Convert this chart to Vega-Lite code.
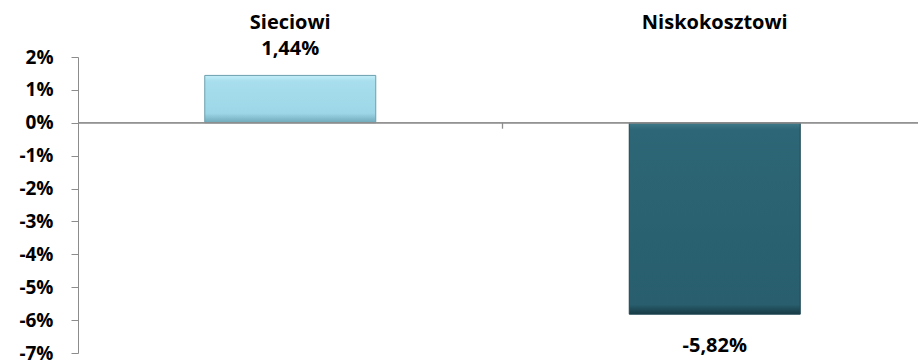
{
  "$schema": "https://vega.github.io/schema/vega-lite/v6.json",
  "width": 849,
  "height": 296,
  "autosize": {"type": "none"},
  "padding": {"left": 78, "top": 57, "right": 0, "bottom": 8},
  "config": {
    "locale": {"number": {"decimal": ",", "thousands": " ", "grouping": [3], "currency": ["", " zł"], "minus": "-"}},
    "view": {"stroke": null},
    "font": "Open Sans",
    "axisY": {"labelOverlap": false, "tickCount": 10, "grid": false, "domainColor": "#8c8c8c", "tickColor": "#8c8c8c", "tickSize": 7, "labelPadding": 18,
      "labelFont": "Open Sans", "labelFontWeight": "bold", "labelFontSize": 19, "labelColor": "#000000", "format": ".0%", "title": null}
  },
  "data": {"values": [
    {"kategoria": "Sieciowi", "zmiana": 0.0144},
    {"kategoria": "Niskokosztowi", "zmiana": -0.0582}
  ]},
  "encoding": {
    "x": {"field": "kategoria", "type": "nominal", "sort": null,
      "scale": {"domain": ["Sieciowi", "Niskokosztowi"], "paddingInner": 0, "paddingOuter": 0},
      "axis": {"orient": "top", "title": null, "domain": false, "ticks": false, "labelAngle": 0,
        "labelFont": "Open Sans", "labelFontWeight": "bold", "labelFontSize": 20, "labelColor": "#000000", "labelPadding": 25}}
  },
  "layer": [
    {
      "transform": [{"filter": "datum.kategoria == 'Sieciowi'"}],
      "mark": {"type": "bar", "size": 171, "strokeWidth": 1, "stroke": "#6a9fae",
        "color": {"gradient": "linear", "x1": 0, "y1": 0, "x2": 0, "y2": 1,
          "stops": [{"offset": 0, "color": "#c4eef8"}, {"offset": 0.12, "color": "#a8deed"}, {"offset": 0.8, "color": "#9dd7e7"}, {"offset": 1, "color": "#6fa8b8"}]}},
      "encoding": {
        "y": {"field": "zmiana", "type": "quantitative",
          "scale": {"domain": [-0.07, 0.02], "nice": false, "zero": true}}
      }
    },
    {
      "transform": [{"filter": "datum.kategoria == 'Niskokosztowi'"}],
      "mark": {"type": "bar", "size": 171, "strokeWidth": 1, "stroke": "#1d4652",
        "color": {"gradient": "linear", "x1": 0, "y1": 0, "x2": 0, "y2": 1,
          "stops": [{"offset": 0, "color": "#3f7b8b"}, {"offset": 0.04, "color": "#2d6676"}, {"offset": 0.95, "color": "#285e6d"}, {"offset": 1, "color": "#173a44"}]}},
      "encoding": {
        "y": {"field": "zmiana", "type": "quantitative"}
      }
    },
    {
      "mark": {"type": "rule", "color": "#8c8c8c", "strokeWidth": 1.3},
      "encoding": {"y": {"datum": 0, "type": "quantitative"}, "x": null}
    },
    {
      "data": {"values": [{"kategoria": "Niskokosztowi", "y0": 0, "y1": -0.0018}]},
      "mark": {"type": "rule", "color": "#8c8c8c", "strokeWidth": 1.3},
      "encoding": {
        "x": {"field": "kategoria", "type": "nominal", "bandPosition": 0},
        "y": {"field": "y0", "type": "quantitative"},
        "y2": {"field": "y1"}
      }
    },
    {
      "transform": [{"filter": "datum.zmiana >= 0"}],
      "mark": {"type": "text", "baseline": "alphabetic", "dy": -20, "font": "Open Sans", "fontWeight": "bold", "fontSize": 20, "color": "#000000"},
      "encoding": {
        "y": {"field": "zmiana", "type": "quantitative"},
        "text": {"field": "zmiana", "type": "quantitative", "format": ".2%"}
      }
    },
    {
      "transform": [{"filter": "datum.zmiana < 0"}],
      "mark": {"type": "text", "baseline": "alphabetic", "dy": 38, "font": "Open Sans", "fontWeight": "bold", "fontSize": 20, "color": "#000000"},
      "encoding": {
        "y": {"field": "zmiana", "type": "quantitative"},
        "text": {"field": "zmiana", "type": "quantitative", "format": ".2%"}
      }
    }
  ]
}
